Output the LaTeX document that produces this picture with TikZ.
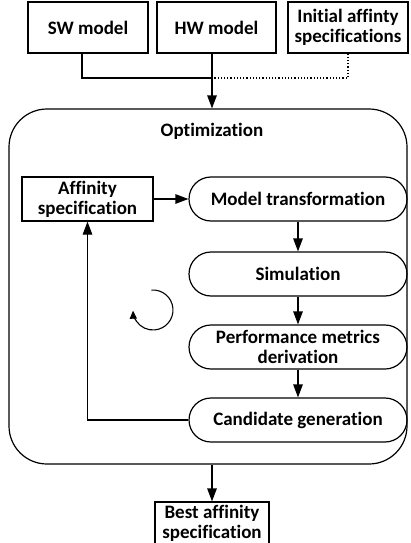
\documentclass[tikz,border=0pt]{standalone}
\usepackage{fontspec}
\setmainfont{Carlito}[Ligatures=NoCommon]
\usetikzlibrary{arrows.meta,calc}
\begin{document}
\begin{tikzpicture}[x=1pt,y=-1pt,
  line width=1.2pt,
  font=\fontsize{19}{20}\selectfont\bfseries,
  box/.style={draw,rectangle,align=center,inner sep=0pt},
  stadium/.style={draw,rectangle,rounded corners=22pt,align=center,inner sep=0pt,minimum width=218pt,minimum height=44pt},
  arr/.style={-{Triangle[length=13pt,width=9.5pt]}}]
\useasboundingbox (0,0) rectangle (410,543);
% top inputs
\node[box,minimum width=120pt,minimum height=51pt] (sw) at (88,27.5) {SW model};
\node[box,minimum width=119pt,minimum height=51pt] (hw) at (216.5,27.5) {HW model};
\node[box,minimum width=120pt,minimum height=51pt] (init) at (348,27.5) {Initial affinty\\specifications};
% outer optimization box
\node[draw,rectangle,rounded corners=38pt,minimum width=398pt,minimum height=355pt,inner sep=0pt] (opt) at (208,286.5) {};
\node (optlbl) at (212,131) {Optimization};
% inner nodes
\node[box,minimum width=131pt,minimum height=44pt] (aff) at (87.5,199) {Affinity\\specification};
\node[stadium] (mt) at (298,199) {Model transformation};
\node[stadium] (sim) at (298,274) {Simulation};
\node[stadium] (pm) at (298,347) {Performance metrics\\derivation};
\node[stadium] (cg) at (298,420) {Candidate generation};
% output
\node[box,minimum width=114pt,minimum height=42pt] (best) at (212,523) {Best affinity\\specification};
% connectors
\coordinate (join) at (212,78);
\draw ([xshift=-6pt]sw.south) |- (join);
\draw[dotted] (init.south) |- (join);
\draw[arr] ([xshift=-4.5pt]hw.south) -- (join |- opt.north);
\draw[arr] (aff.east) -- (mt.west);
\draw[arr] (mt.south) -- (sim.north);
\draw[arr] (sim.south) -- (pm.north);
\draw[arr] (pm.south) -- (cg.north);
\draw[arr] (cg.west) -| (aff.south);
\draw[arr] (opt.south -| best.north) -- (best.north);
% cycle symbol
\coordinate (cyc) at (153,310);
\draw[line width=1.1pt,-{Triangle[length=8pt,width=7pt]}] ($(cyc)+(95:20pt)$) arc[start angle=95,end angle=-178,radius=20pt];
\end{tikzpicture}
\end{document}
